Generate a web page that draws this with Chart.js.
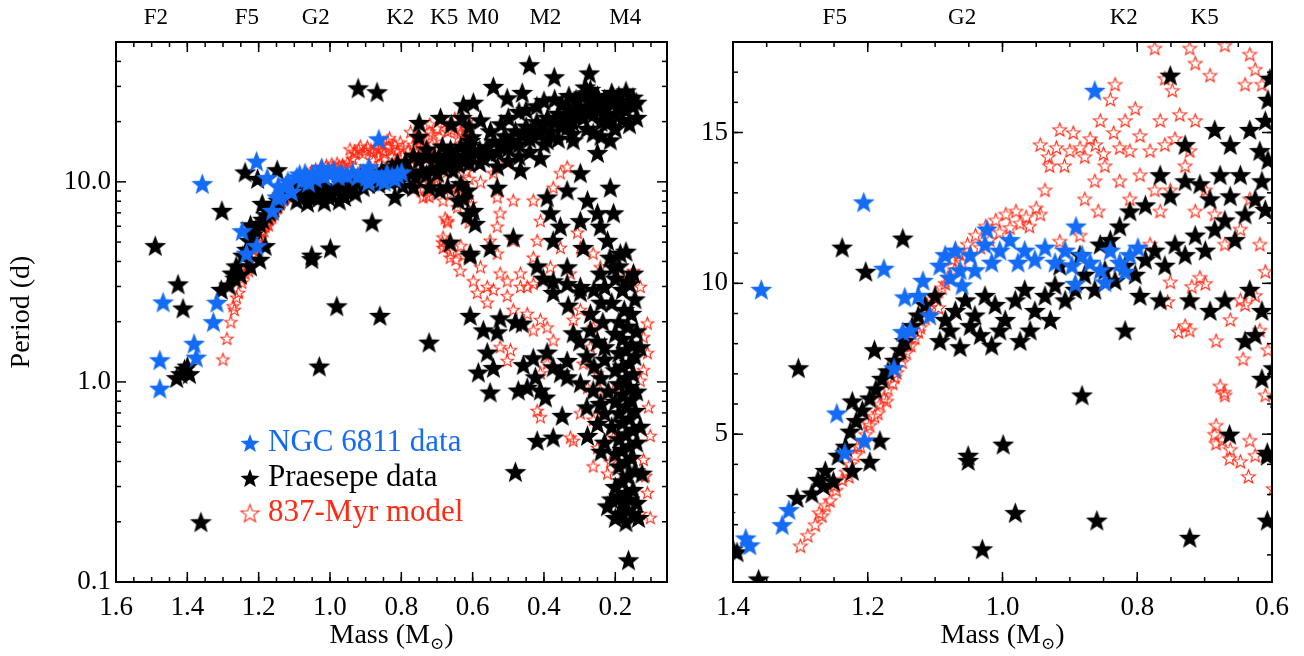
<!DOCTYPE html>
<html>
<head>
<meta charset="utf-8">
<title>Rotation periods</title>
<script src="https://cdn.jsdelivr.net/npm/chart.js@4.4.1/dist/chart.umd.min.js"></script>
<style>
  html, body { margin: 0; padding: 0; background: #fff; }
  #wrap { position: relative; width: 1304px; height: 656px; }
  .panel { position: absolute; left: 0; top: 0; width: 1304px; height: 656px; }
</style>
</head>
<body>
<div id="wrap">
  <div class="panel"><canvas id="leftChart"></canvas></div>
  <div class="panel"><canvas id="rightChart"></canvas></div>
</div>
<script>
// mass (Msun), period (d)
const ngcData = [
  [1.477,0.93],[1.477,1.29],[1.468,2.51],[1.381,1.56],[1.375,1.33],[1.327,2.0],[1.317,2.5],
  [1.358,9.8],[1.206,12.7],[1.176,10.5],[1.246,5.7],[1.234,4.4],[1.205,4.8],[0.863,16.4],
  [1.161,7.2],[1.148,8.4],[1.145,9.55],[1.137,8.45],[1.125,9.6],[1.118,10.1],[1.108,8.95],
  [1.093,10.6],[1.085,10.95],[1.078,10.2],[1.07,11.1],[1.063,10.45],[1.06,9.95],[1.048,10.95],
  [1.041,10.45],[1.026,11.3],[1.023,11.8],[1.016,10.7],[1.004,11.1],[0.989,11.45],[0.977,10.7],
  [0.967,11.1],[0.952,10.8],[0.937,11.2],[0.922,10.7],[0.907,11.1],[0.897,10.6],[0.892,10.0],
  [0.891,11.9],[0.882,10.95],[0.87,10.7],[0.855,10.45],[0.848,10.05],[0.84,11.1],[0.826,10.7],
  [0.818,10.4],[0.811,10.95],[0.799,11.2]
];

const praesepeData = [
  [1.49,4.8],[1.426,3.09],[1.412,2.34],[1.43,1.05],[1.418,1.1],[1.408,1.16],[1.40,1.2],[1.394,1.1],[1.362,0.2],
  [1.305,2.9],[1.283,3.05],[1.274,3.5],[1.263,3.8],[1.251,3.45],[1.244,4.3],[1.233,4.6],[1.226,5.1],
  [1.217,5.45],[1.208,5.8],[1.197,6.2],[1.188,6.5],[1.179,6.85],[1.17,7.1],[1.16,7.45],[1.152,7.8],
  [1.145,8.1],[1.134,8.6],[1.125,8.95],[1.115,9.3],[1.1,9.6],[1.19,7.8],[1.223,6.1],[1.266,3.3],
  [1.223,3.8],[1.238,11.2],[1.203,10.4],[1.148,11.5],[1.303,7.2],[1.182,4.8],[1.197,4.1],
  [1.085,8.8],[1.07,9.1],[1.055,9.45],[1.041,8.95],[1.026,9.6],[1.011,9.3],[0.996,8.8],[0.981,9.45],
  [0.967,9.8],[0.952,9.1],[0.937,9.6],[0.922,9.95],[0.907,9.45],[0.892,9.8],[0.878,10.3],[0.863,9.8],
  [0.848,10.45],[0.833,10.1],[0.818,10.6],[0.803,10.3],[0.788,10.8],[0.774,11.1],[0.759,10.6],
  [0.744,11.3],[0.729,10.95],[0.714,11.6],[0.699,11.1],[0.685,11.8],[0.67,12.1],[0.655,11.45],
  [0.64,12.3],[0.625,12.8],[0.61,12.45],[0.615,13.4],[0.606,14.1],[0.618,14.4],[0.633,15.1],
  [0.61,15.4],[0.606,16.1],[0.603,16.8],[0.647,13.6],[0.662,12.9],[0.677,13.6],[0.692,12.8],
  [0.707,13.3],[0.729,13.4],[0.751,12.9],[0.766,13.6],[0.788,12.6],[0.811,12.4],[0.826,11.9],
  [0.84,11.45],[0.855,11.3],[0.885,10.95],[0.915,10.6],[0.729,14.6],[0.751,16.9],[0.685,15.1],[0.662,14.6],
  [1.063,7.9],[1.016,7.95],[1.048,8.6],[1.033,8.3],[1.004,8.45],[0.959,8.45],[0.929,8.8],[0.974,8.1],
  [1.093,8.1],[1.078,8.45],[0.999,4.67],[1.051,4.3],[1.051,4.13],[0.981,2.4],[1.03,1.2],[0.86,2.15],
  [0.722,1.58],[0.882,6.3],[0.818,8.45],[0.607,2.15],[0.615,6.85],[0.607,4.3],[0.625,8.3],[0.64,8.1],
  [0.766,9.45],[0.796,9.6],[0.722,9.45],[0.692,9.1],[0.67,9.45],[0.633,9.8],
  [0.441,38.5],[0.371,33.5],[0.273,35],[0.542,30],[0.461,28],[0.503,26.3],[0.626,24.3],[0.598,25],
  [0.284,29.8],[0.278,27.9],[0.262,25.7],[0.206,26.6],[0.166,25.1],[0.69,21],[0.75,19.8],[0.578,20.4],
  [0.921,29.5],[0.868,28.2],[0.66,19.5],[0.63,21],[0.61,19],
  [0.58,12.5],[0.58,14.5],[0.57,13.2],[0.56,15],[0.55,13.8],[0.54,16],[0.53,14.2],[0.52,15.5],
  [0.51,17],[0.5,14.8],[0.49,16.2],[0.48,18],[0.47,15.5],[0.46,17.2],[0.45,19],[0.44,16.5],
  [0.43,18.2],[0.42,20],[0.41,17.5],[0.40,19.2],[0.39,21],[0.38,18],[0.37,20],[0.36,22],[0.35,19],
  [0.34,21],[0.33,23],[0.32,20],[0.31,22],[0.30,24],[0.29,21],[0.28,23],[0.27,25],[0.26,22],
  [0.25,24],[0.24,20],[0.23,23],[0.22,21],[0.21,25],[0.2,22],[0.19,24],[0.18,20.5],[0.17,23],
  [0.16,25.5],[0.15,24],[0.14,25],
  [0.55,18],[0.52,19.5],[0.5,21],[0.47,22.5],[0.45,23],[0.42,24],[0.4,25.5],[0.37,26],[0.35,24.5],
  [0.33,27],[0.31,26],[0.29,27.5],[0.27,29],[0.25,27],[0.23,26],[0.21,28],[0.19,27],[0.17,28.5],
  [0.15,26.5],[0.53,12],[0.5,12.8],[0.47,13.5],[0.44,14.2],[0.4,15.5],[0.36,16.5],[0.32,17.5],
  [0.28,18.5],[0.24,17],[0.2,18.5],[0.16,19.5],[0.14,21],
  [0.615,9.1],[0.598,7.2],[0.593,6.2],[0.663,5.0],[0.607,4.4],[0.551,4.7],[0.486,5.3],[0.531,9.4],
  [0.466,11.5],[0.41,13.2],[0.391,8.4],[0.382,7.0],[0.354,6.0],[0.374,5.1],[0.335,9.1],[0.298,11.1],
  [0.25,14.0],[0.278,8.1],[0.25,7.0],[0.242,6.0],[0.222,5.1],[0.29,4.7],[0.186,4.4],[0.205,7.0],
  [0.214,9.4],[0.214,16.2],[0.222,19.8],[0.262,17.6],[0.318,16.2],[0.335,18.8],[0.438,17.6],[0.391,16.2],
  [0.205,3.76],[0.166,3.2],[0.149,3.5],[0.419,3.8],[0.402,3.3],[0.374,2.8],[0.242,3.5],[0.298,3.0],
  [0.335,3.76],[0.298,6.4],
  [0.57,1.82],[0.531,1.78],[0.523,2.09],[0.48,2.0],[0.461,1.97],[0.559,1.41],[0.584,1.12],[0.542,1.18],
  [0.551,0.89],[0.48,0.356],[0.472,0.91],[0.447,0.94],[0.424,1.06],[0.41,0.91],[0.396,0.84],[0.458,1.22],
  [0.43,1.32],[0.391,1.41],[0.374,1.19],[0.354,1.11],[0.335,1.28],[0.419,0.51],[0.374,0.53],[0.349,0.68],
  [0.278,0.54],[0.332,2.42],[0.298,2.82],[0.27,1.82],[0.318,1.76],[0.335,1.06],[0.298,0.99],[0.262,0.91],
  [0.242,0.78],[0.374,3.2],[0.335,3.1],
  [0.3,1.6],[0.28,1.35],[0.26,1.2],[0.24,1.05],[0.23,1.3],[0.25,1.6],[0.27,2.2],[0.24,2.5],[0.26,2.9],
  [0.23,3.0],[0.28,0.75],[0.25,0.62],[0.23,0.7],[0.24,0.45],[0.22,0.9],
  [0.215,4.2],[0.19,3.8],[0.17,4.5],[0.2,3.3],[0.16,3.1],[0.18,2.9],[0.145,2.6],[0.21,2.5],[0.175,2.3],
  [0.155,2.2],[0.19,2.0],[0.165,1.9],[0.14,1.8],[0.2,1.75],[0.18,1.65],[0.155,1.55],[0.17,1.45],
  [0.19,1.4],[0.145,1.35],[0.16,1.25],[0.18,1.2],[0.2,1.15],[0.15,1.1],[0.17,1.05],[0.19,0.98],
  [0.16,0.95],[0.14,0.9],[0.18,0.87],[0.155,0.82],[0.2,0.8],[0.17,0.76],[0.145,0.72],[0.19,0.7],
  [0.16,0.66],[0.18,0.63],[0.21,0.6],[0.15,0.58],[0.17,0.55],[0.19,0.52],[0.14,0.5],[0.16,0.48],
  [0.18,0.46],[0.2,0.44],[0.155,0.42],[0.17,0.4],[0.19,0.38],[0.145,0.36],[0.165,0.34],[0.18,0.32],
  [0.2,0.3],[0.15,0.29],[0.17,0.28],[0.19,0.27],[0.16,0.26],[0.14,0.25],[0.18,0.25],[0.21,0.26],
  [0.165,0.23],[0.185,0.22],[0.15,0.22],[0.135,0.21],[0.222,0.24],[0.2,0.21],[0.17,0.2],[0.24,0.78],
  [0.23,0.5],[0.23,1.5],[0.235,2.0],[0.13,1.5],[0.13,0.6],[0.125,0.35],[0.163,0.129]
];

const modelData = [
  [1.30,1.3],[1.289,1.65],[1.278,2.0],[1.268,2.3],[1.262,2.65],[1.256,2.8],[1.247,3.15],[1.238,3.5],
  [1.232,3.75],[1.226,4.0],[1.219,4.3],[1.211,4.6],[1.203,5.0],[1.197,5.3],[1.19,5.6],[1.182,6.0],
  [1.176,6.2],[1.17,6.5],[1.163,6.7],[1.157,7.05],[1.149,7.4],[1.143,7.7],[1.136,7.95],[1.13,8.2],
  [1.122,8.55],[1.115,8.85],[1.108,9.2],[1.099,9.5],[1.09,9.85],[1.081,10.2],[1.071,10.45],[1.06,10.7],
  [1.048,10.95],[1.033,11.2],[1.019,11.45],[1.004,11.7],[0.989,11.85],[0.974,12.0],
  [1.272,2.4],[1.25,3.3],[1.228,3.6],[1.215,4.6],[1.2,5.4],[1.185,5.7],[1.172,6.1],[1.16,6.9],
  [1.152,7.6],[1.14,8.0],[1.125,8.4],[1.112,9.3],[1.095,9.2],[1.085,10.0],[1.075,10.8],[1.065,11.0],
  [1.052,11.3],[1.04,11.6],[1.025,11.9],[1.01,12.1],[0.995,12.3],[0.98,12.4],[0.965,12.2],[0.95,12.5],[0.96,11.9],
  [0.944,12.3],[0.937,13.1],[0.93,13.9],[0.915,11.4],[0.885,11.6],[0.878,12.8],[0.863,13.4],[0.858,12.4],
  [0.848,13.9],[0.826,13.4],[0.811,12.8],[0.796,13.6],[0.774,13.1],[0.766,12.4],[0.751,13.1],[0.729,13.9],
  [0.714,12.4],[0.699,13.1],[0.685,12.3],[0.67,11.3],[0.647,11.8],[0.633,12.8],[0.618,11.3],[0.61,10.4],
  [0.915,15.1],[0.9,14.4],[0.885,14.5],[0.87,14.8],[0.855,15.4],[0.84,16.1],[0.833,16.6],[0.818,15.4],
  [0.811,14.4],[0.803,15.8],[0.796,14.9],[0.781,14.4],[0.766,15.4],[0.759,14.6],[0.744,14.8],[0.737,15.6],
  [0.722,14.4],[0.714,15.4],[0.774,17.8],[0.759,16.8],[0.748,16.4],[0.722,17.8],[0.714,17.3],[0.692,16.9],
  [0.67,17.9],[0.633,17.6],[0.625,17.1],[0.615,16.6],[0.64,16.6],
  [0.944,14.6],[0.932,14.2],[0.92,14.5],[0.908,13.9],[0.895,15.0],[0.878,14.2],[0.862,14.6],[0.85,14.3],
  [0.835,15.0],[0.826,14.5],
  [0.781,11.3],[0.751,10.05],[0.707,10.2],[0.699,10.0],[0.625,9.6],[0.618,8.45],[0.729,8.6],[0.722,8.45],
  [0.662,8.8],[0.647,9.45],[0.64,9.3],[0.677,6.6],[0.67,6.3],[0.674,4.8],[0.662,4.5],[0.647,4.1],
  [0.633,4.8],[0.625,4.3],[0.61,6.3],[0.606,7.8],[0.685,5.0],[0.739,8.4],[0.755,9.4],[0.719,9.9],
  [0.683,8.1],[0.643,7.5],[0.671,6.4],[0.683,5.3],[0.663,4.2],[0.635,3.6],[0.683,4.7],
  [0.72,19.5],[0.68,19.8],[0.64,19.0],[0.62,18.6],[0.66,18.3],[0.70,18.5],[0.61,20.5],[0.65,20.8],
  [0.578,13.3],[0.578,10],[0.542,11.1],[0.503,12.5],[0.486,8.1],[0.531,8.4],[0.523,7.0],[0.531,6.0],
  [0.551,5.1],[0.531,4.4],[0.523,3.5],[0.578,3.76],[0.598,3.2],[0.559,3.0],[0.503,3.2],[0.466,3.5],
  [0.447,3.0],[0.43,4.2],[0.419,5.1],[0.41,6.4],[0.43,8.1],[0.374,9.4],[0.354,11.1],[0.335,11.9],
  [0.306,5.6],[0.298,4.7],[0.262,4.4],[0.242,3.76],[0.205,4.1],[0.186,3.5],[0.149,3.6],[0.13,3.0],
  [0.354,4.7],[0.382,3.76],[0.326,3.5],[0.486,5.1],
  [0.587,2.8],[0.542,2.9],[0.503,2.7],[0.466,3.0],[0.43,3.1],[0.559,2.5],[0.486,2.3],[0.447,2.2],
  [0.41,2.05],[0.43,1.82],[0.391,1.88],[0.523,1.5],[0.494,1.45],[0.503,1.28],[0.41,1.11],[0.391,1.24],
  [0.419,0.72],[0.41,0.67],[0.374,1.62],[0.318,2.05],[0.298,2.3],[0.262,1.88],[0.27,1.5],[0.29,1.24],
  [0.25,1.11],[0.278,0.94],[0.242,0.91],[0.298,0.7],[0.262,0.65],[0.242,0.7],[0.326,0.53],[0.318,0.51],
  [0.25,0.47],[0.262,0.38],[0.222,0.35],[0.11,1.97],[0.121,1.68],[0.11,1.4],[0.121,1.15],[0.13,1.02],
  [0.107,0.75],[0.102,0.54],[0.115,0.34],[0.11,0.28],[0.102,0.21],[0.13,0.22],[0.121,0.41],[0.205,0.91],
  [0.205,0.53],[0.214,0.4],[0.186,0.32]
];

// axis ticks and labels
const leftMassTicks = [1.6, 1.4, 1.2, 1.0, 0.8, 0.6, 0.4, 0.2];
const leftPeriodTicks = [0.1, 1, 10];
const leftPeriodLabels = ['0.1', '1.0', '10.0'];
const rightMassTicks = [1.4, 1.2, 1.0, 0.8, 0.6];
const rightPeriodTicks = [5, 10, 15];
const rightPeriodLabels = ['5', '10', '15'];
const leftSpTypes = ['F2', 'F5', 'G2', 'K2', 'K5', 'M0', 'M2', 'M4'];
const leftSpMass = [1.488, 1.233, 1.04, 0.803, 0.68, 0.571, 0.396, 0.172];
const rightSpTypes = ['F5', 'G2', 'K2', 'K5'];
const rightSpMass = [1.249, 1.06, 0.82, 0.70];
const legendLabels = ['NGC 6811 data', 'Praesepe data', '837-Myr model'];

const BLUE = '#146cf6';
const RED = '#ff2a14';
const FONT = "'Liberation Serif', 'DejaVu Serif', 'Times New Roman', serif";

function starPath(g, r) {
  g.beginPath();
  for (let i = 0; i < 10; i++) {
    const rad = i % 2 ? r * 0.42 : r;
    const a = -Math.PI / 2 + i * Math.PI / 5;
    g.lineTo(rad * Math.cos(a), rad * Math.sin(a));
  }
  g.closePath();
}

function makeStar(r, color, open) {
  const size = Math.ceil(2 * r + 4);
  const c = document.createElement('canvas');
  c.width = size;
  c.height = size;
  const g = c.getContext('2d');
  g.translate(size / 2, size / 2 + r * 0.1);
  starPath(g, r);
  if (open) {
    g.strokeStyle = color;
    g.lineWidth = 1.1;
    g.stroke();
  } else {
    g.fillStyle = color;
    g.fill();
  }
  return c;
}

const blueStar = makeStar(11.5, BLUE, false);
const blackStar = makeStar(11.5, '#000', false);
const redStarLeft = makeStar(6.5, RED, true);
const redStarRight = makeStar(7.2, RED, true);

const toXY = arr => arr.map(([m, p]) => ({ x: m, y: p }));

// frame, inward ticks, labels and legend drawn on top of the points
const framePlugin = {
  id: 'frame',
  afterDatasetsDraw(chart, args, o) {
    const { ctx, chartArea: a } = chart;
    const xs = chart.scales.x, ys = chart.scales.y;
    ctx.save();
    ctx.strokeStyle = '#000';
    ctx.lineWidth = 1.5;
    const seg = (x1, y1, x2, y2) => { ctx.beginPath(); ctx.moveTo(x1, y1); ctx.lineTo(x2, y2); ctx.stroke(); };
    const xTick = (v, len) => {
      const px = xs.getPixelForValue(v);
      seg(px, a.bottom, px, a.bottom - len);
      seg(px, a.top, px, a.top + len);
    };
    const yTick = (v, len) => {
      const py = ys.getPixelForValue(v);
      seg(a.left, py, a.left + len, py);
      seg(a.right, py, a.right - len, py);
    };
    for (let k = Math.ceil(xs.min / 0.05 - 1e-6); k * 0.05 <= xs.max + 1e-6; k++) xTick(k * 0.05, 5);
    o.xTicks.forEach(v => xTick(v, 10));
    if (o.logY) {
      [0.1, 1, 10].forEach(d => { for (let k = 2; k <= 9; k++) if (k * d <= ys.max) yTick(k * d, 5); });
    } else {
      for (let v = 1; v <= ys.max; v++) yTick(v, 5);
    }
    o.yTicks.forEach(v => yTick(v, 10));

    ctx.lineWidth = 2;
    ctx.strokeRect(a.left, a.top, a.right - a.left, a.bottom - a.top);

    ctx.fillStyle = '#000';
    ctx.font = '27px ' + FONT;
    ctx.textAlign = 'center';
    ctx.textBaseline = 'middle';
    o.xTicks.forEach(v => ctx.fillText(v.toFixed(1), xs.getPixelForValue(v), 608));
    ctx.textAlign = 'right';
    o.yTicks.forEach((v, i) => ctx.fillText(o.yLabels[i], a.left - 5, ys.getPixelForValue(v)));

    ctx.font = '23px ' + FONT;
    ctx.textAlign = 'center';
    o.spTypes.forEach((s, i) => ctx.fillText(s, xs.getPixelForValue(o.spMass[i]), 18));

    // x title with subscript sun symbol
    const cx = (a.left + a.right) / 2;
    ctx.font = '28px ' + FONT;
    const t1 = 'Mass (M', t3 = ')';
    ctx.textAlign = 'left';
    const w1 = ctx.measureText(t1).width;
    const w3 = ctx.measureText(t3).width;
    ctx.font = '17px ' + FONT;
    const w2 = ctx.measureText('\u2299').width;
    let x0 = cx - (w1 + w2 + w3) / 2;
    ctx.font = '28px ' + FONT;
    ctx.fillText(t1, x0, 636);
    ctx.font = '17px ' + FONT;
    ctx.fillText('\u2299', x0 + w1, 645);
    ctx.font = '28px ' + FONT;
    ctx.fillText(t3, x0 + w1 + w2, 636);

    if (o.yTitle) {
      ctx.save();
      ctx.translate(22, (a.top + a.bottom) / 2);
      ctx.rotate(-Math.PI / 2);
      ctx.textAlign = 'center';
      ctx.fillText(o.yTitle, 0, 0);
      ctx.restore();
    }

    if (o.legend) {
      const colors = [BLUE, '#000', RED];
      const marks = [makeStar(10, BLUE, false), makeStar(10, '#000', false), makeStar(9.5, RED, true)];
      ctx.font = '31px ' + FONT;
      ctx.textAlign = 'left';
      legendLabels.forEach((t, i) => {
        const y = 443 + i * 35;
        ctx.drawImage(marks[i], 250 - marks[i].width / 2, y - marks[i].height / 2);
        ctx.fillStyle = colors[i];
        ctx.fillText(t, 268, y);
      });
    }
    ctx.restore();
  }
};

function makeChart(id, cfg) {
  return new Chart(document.getElementById(id), {
    type: 'scatter',
    data: {
      datasets: [
        { data: toXY(ngcData), pointStyle: blueStar, pointRadius: 11, order: 0, clip: 0 },
        { data: toXY(praesepeData), pointStyle: blackStar, pointRadius: 11, order: 1, clip: 0 },
        { data: toXY(modelData), pointStyle: cfg.redStar, pointRadius: 7, order: 2, clip: 0 }
      ]
    },
    options: {
      responsive: true,
      maintainAspectRatio: false,
      animation: false,
      events: [],
      layout: { padding: cfg.padding },
      scales: {
        x: { type: 'linear', reverse: true, min: cfg.xMin, max: cfg.xMax, display: false },
        y: { type: cfg.logY ? 'logarithmic' : 'linear', min: cfg.yMin, max: cfg.yMax, display: false }
      },
      plugins: {
        legend: { display: false },
        tooltip: { enabled: false },
        frame: cfg.frame
      }
    },
    plugins: [framePlugin]
  });
}

makeChart('leftChart', {
  padding: { left: 116, right: 637, top: 42, bottom: 74 },
  xMin: 0.055, xMax: 1.6, yMin: 0.1, yMax: 50, logY: true,
  redStar: redStarLeft,
  frame: {
    xTicks: leftMassTicks, yTicks: leftPeriodTicks, yLabels: leftPeriodLabels, logY: true,
    spTypes: leftSpTypes, spMass: leftSpMass, yTitle: 'Period (d)', legend: true
  }
});

makeChart('rightChart', {
  padding: { left: 733, right: 32, top: 42, bottom: 74 },
  xMin: 0.6, xMax: 1.4, yMin: 0.1, yMax: 18, logY: false,
  redStar: redStarRight,
  frame: {
    xTicks: rightMassTicks, yTicks: rightPeriodTicks, yLabels: rightPeriodLabels, logY: false,
    spTypes: rightSpTypes, spMass: rightSpMass, yTitle: null, legend: false
  }
});
</script>
</body>
</html>
